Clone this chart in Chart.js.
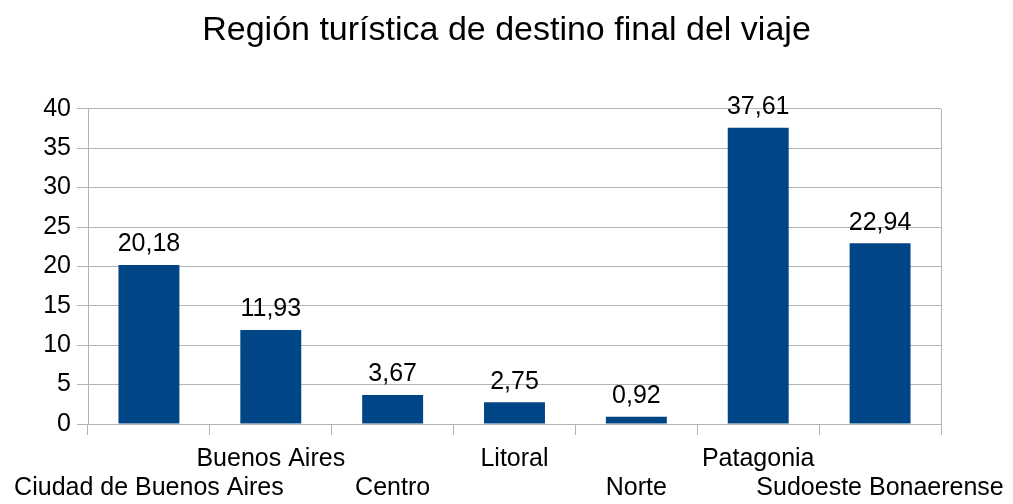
<!DOCTYPE html>
<html>
<head>
<meta charset="utf-8">
<script src="https://cdn.jsdelivr.net/npm/chart.js@4/dist/chart.umd.min.js"></script>
<style>
html,body{margin:0;padding:0;background:#fff;}
#wrap{width:1013px;height:504px;}
</style>
</head>
<body>
<div id="wrap"><canvas id="c" width="1013" height="504"></canvas></div>
<script>
const categories = ["Ciudad de Buenos Aires", "Buenos Aires", "Centro", "Litoral", "Norte", "Patagonia", "Sudoeste Bonaerense"];
const values = [20.18, 11.93, 3.67, 2.75, 0.92, 37.61, 22.94];
const yTicks = [0, 5, 10, 15, 20, 25, 30, 35, 40];
const titleText = "Región turística de destino final del viaje";

const FONT = "'Liberation Sans', Arial, sans-serif";
const GRID = '#b3b3b3';
const fmt = v => v.toFixed(2).replace('.', ',');

const valueLabels = {
  id: 'valueLabels',
  afterDatasetsDraw(chart) {
    const ctx = chart.ctx;
    const meta = chart.getDatasetMeta(0);
    ctx.save();
    ctx.font = '25px ' + FONT;
    ctx.fillStyle = '#000';
    ctx.textAlign = 'center';
    ctx.textBaseline = 'bottom';
    meta.data.forEach((bar, i) => {
      ctx.fillText(fmt(values[i]), bar.x, bar.y - 8);
    });
    ctx.restore();
  }
};

new Chart(document.getElementById('c'), {
  type: 'bar',
  data: {
    labels: categories,
    datasets: [{
      data: values,
      backgroundColor: '#004586',
      borderWidth: 0,
      barPercentage: 0.5,
      categoryPercentage: 1
    }]
  },
  options: {
    responsive: false,
    animation: false,
    events: [],
    layout: { padding: 0 },
    plugins: {
      legend: { display: false },
      tooltip: { enabled: false },
      title: {
        display: true,
        text: titleText,
        color: '#000',
        font: { family: FONT, size: 34, weight: 'normal', lineHeight: 1.2 },
        padding: { top: 10, bottom: 58 }
      }
    },
    scales: {
      x: {
        offset: true,
        grid: {
          offset: true,
          drawOnChartArea: true,
          color: c => (c.type === 'scale' ? GRID : 'rgba(0,0,0,0)'),
          tickColor: GRID,
          tickLength: 11,
          lineWidth: 1
        },
        border: { display: true, color: GRID },
        ticks: {
          autoSkip: false,
          maxRotation: 0,
          minRotation: 0,
          color: '#000',
          padding: 10,
          font: { family: FONT, size: 25, lineHeight: 1.16 },
          callback: function (v, i) {
            const l = categories[i];
            return i % 2 === 1 ? [l, ''] : ['', l];
          }
        },
        afterFit: s => { s.height = 80; s.paddingLeft = 0; s.paddingRight = 0; }
      },
      y: {
        min: 0,
        max: 40,
        afterBuildTicks: s => { s.ticks = yTicks.map(v => ({ value: v })); },
        grid: { color: GRID, tickColor: GRID, tickLength: 11, lineWidth: 1 },
        border: { display: true, color: GRID },
        ticks: {
          color: '#000',
          padding: 6,
          font: { family: FONT, size: 25 }
        },
        afterFit: s => { s.width = 88; }
      },
      yRight: {
        position: 'right',
        display: true,
        min: 0,
        max: 40,
        grid: { display: false, drawOnChartArea: false },
        border: { display: false },
        ticks: { display: false },
        afterFit: s => { s.width = 72; }
      }
    }
  },
  plugins: [valueLabels]
});
</script>
</body>
</html>
